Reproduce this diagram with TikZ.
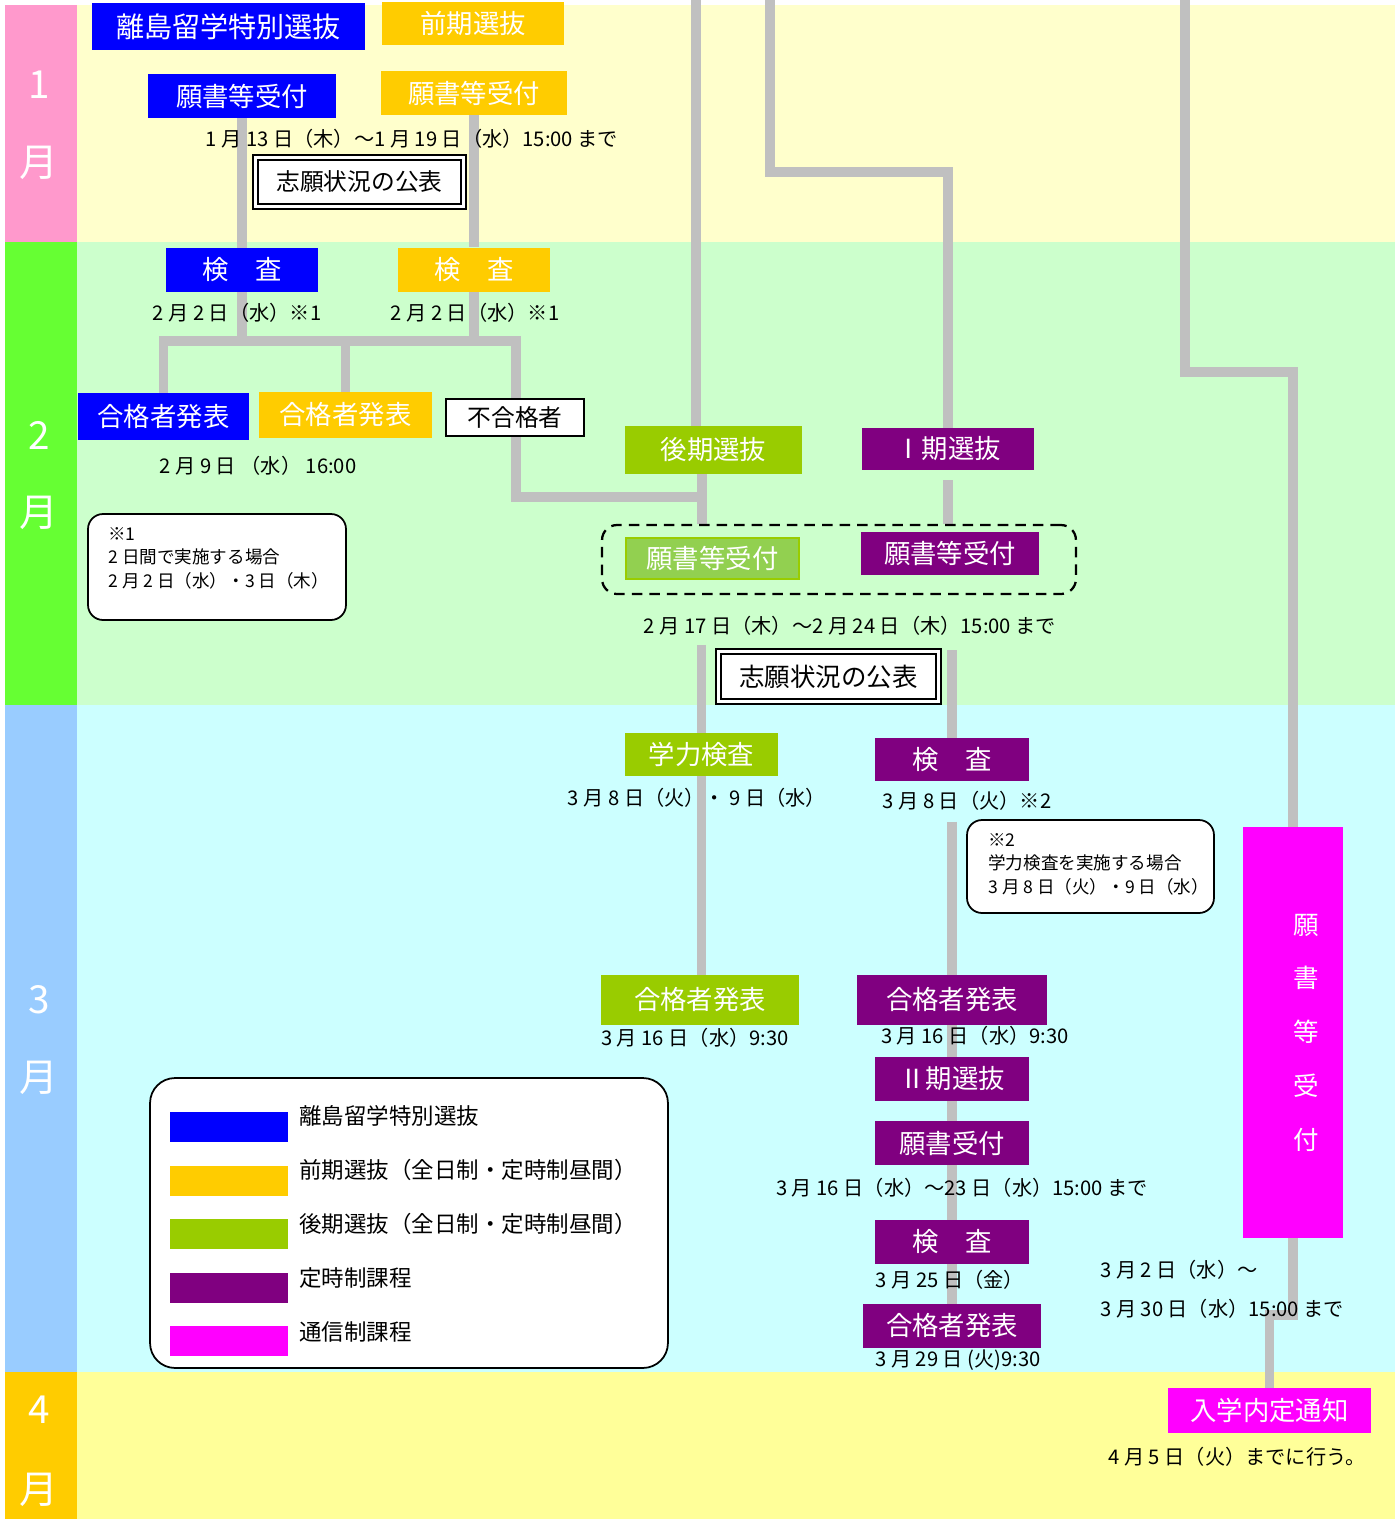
\documentclass[tikz,border=0pt]{standalone}
\usepackage{fontspec}
\setmainfont{Noto Sans CJK JP}
\usetikzlibrary{calc}

\definecolor{islblue}{HTML}{0000FF}
\definecolor{zenki}{HTML}{FFCC00}
\definecolor{koki}{HTML}{99CC00}
\definecolor{kokilight}{HTML}{92D050}
\definecolor{teiji}{HTML}{800080}
\definecolor{tsushin}{HTML}{FF00FF}
\definecolor{linkgray}{HTML}{C0C0C0}
\definecolor{janband}{HTML}{FFFFCC}
\definecolor{febband}{HTML}{CCFFCC}
\definecolor{marband}{HTML}{CCFFFF}
\definecolor{aprband}{HTML}{FFFF99}
\definecolor{janmon}{HTML}{FF99CC}
\definecolor{febmon}{HTML}{66FF33}
\definecolor{marmon}{HTML}{99CCFF}
\definecolor{aprmon}{HTML}{FFCC00}

\pgfdeclarelayer{bands}
\pgfdeclarelayer{links}
\pgfsetlayers{bands,links,main}

\begin{document}
\begin{tikzpicture}[x=0.02cm, y=-0.02cm,
    box/.style={inner sep=0pt, text=white, minimum height=0.88cm, font=\fontsize{15}{18}\selectfont},
    datetext/.style={inner sep=0pt, font=\fontsize{11.5}{13}\selectfont},
    conn/.style={draw=linkgray, line width=5.6pt},
    pub/.style={draw, double, double distance=1.6pt, line width=1.2pt, fill=white, inner sep=0pt},
    memo/.style={draw, line width=1pt, rounded corners=0.3cm, fill=white},
    memotext/.style={inner sep=0pt, align=left, anchor=west, font=\fontsize{10}{13.3}\selectfont},
    month/.style={text=white, font=\fontsize{22}{24}\selectfont}]
    \useasboundingbox (0,0) rectangle (1399,1519);

    % Month bands
    \begin{pgfonlayer}{bands}
    \fill[janband] (77,5) rectangle (1395,242);
    \fill[febband] (77,242) rectangle (1395,705);
    \fill[marband] (77,705) rectangle (1395,1372);
    \fill[aprband] (77,1372) rectangle (1395,1519);
    \fill[janmon] (5,5) rectangle (77,242);
    \fill[febmon] (5,242) rectangle (77,705);
    \fill[marmon] (5,705) rectangle (77,1372);
    \fill[aprmon] (5,1372) rectangle (77,1519);
    \end{pgfonlayer}
    \node[month] (m1a) at (39,85) {1};
    \node[month] (m1b) at (39,163) {月};
    \node[month] (m2a) at (39,435) {2};
    \node[month] (m2b) at (39,513) {月};
    \node[month] (m3a) at (39,1000) {3};
    \node[month] (m3b) at (39,1078) {月};
    \node[month] (m4a) at (39,1410) {4};
    \node[month] (m4b) at (39,1490) {月};

    % Define nodes: January
    \node[box, fill=islblue, minimum width=5.46cm, minimum height=0.94cm, font=\fontsize{16}{18}\selectfont] (isl) at (228.5,26.5) {離島留学特別選抜};
    \node[box, fill=zenki, minimum width=3.64cm, minimum height=0.86cm] (zen) at (473,23.5) {前期選抜};
    \node[box, fill=islblue, minimum width=3.78cm] (bApp) at (242,96) {願書等受付};
    \node[box, fill=zenki, minimum width=3.72cm] (yApp) at (474,93) {願書等受付};
    \node[datetext] (d1) at (412,139) {1 月 13 日（木）～1 月 19 日（水）15:00 まで};
    \node[pub, minimum width=4.16cm, minimum height=0.98cm, font=\fontsize{13.5}{16}\selectfont] (pub1) at (359.5,182) {志願状況の公表};

    % February
    \node[box, fill=islblue, minimum width=3.06cm] (bExam) at (242,270) {検　査};
    \node[box, fill=zenki, minimum width=3.06cm] (yExam) at (474,269.5) {検　査};
    \node[datetext] (d2a) at (237,313) {2 月 2 日（水）※1};
    \node[datetext] (d2b) at (475,313) {2 月 2 日（水）※1};
    \node[box, fill=islblue, minimum width=3.42cm, minimum height=0.94cm] (bPass) at (163.5,416.5) {合格者発表};
    \node[box, fill=zenki, minimum width=3.46cm, minimum height=0.92cm] (yPass) at (345.5,415) {合格者発表};
    \node[draw, line width=1.2pt, fill=white, inner sep=0pt, minimum width=2.76cm, minimum height=0.74cm, font=\fontsize{13.5}{16}\selectfont] (fail) at (515,417.5) {不合格者};
    \node[datetext] (d3) at (258,466) {2 月 9 日 （水） 16:00};
    \node[memo, minimum width=5.16cm, minimum height=2.12cm] (note1) at (217,567) {};
    \node[memotext] (note1txt) at (108,558) {※1\\2 日間で実施する場合\\2 月 2 日（水）・3 日（木）};

    \node[box, fill=koki, minimum width=3.54cm, minimum height=0.96cm] (koki) at (713.5,450) {後期選抜};
    \node[box, fill=teiji, minimum width=3.44cm, minimum height=0.84cm] (ki1) at (948,449) {Ⅰ期選抜};
    \node[draw, dashed, dash pattern=on 6pt off 4pt, line width=1.3pt, rounded corners=0.3cm, minimum width=9.48cm, minimum height=1.38cm] (window) at (839,559.5) {};
    \node[box, fill=kokilight, draw=koki, line width=1pt, minimum width=3.46cm, minimum height=0.82cm] (kApp) at (712.5,558.5) {願書等受付};
    \node[box, fill=teiji, minimum width=3.56cm, minimum height=0.86cm] (pApp) at (950,553.5) {願書等受付};
    \node[datetext] (d4) at (850,626) {2 月 17 日（木）～2 月 24 日（木）15:00 まで};
    \node[pub, minimum width=4.4cm, minimum height=1.0cm, font=\fontsize{14.5}{16}\selectfont] (pub2) at (828.5,676.5) {志願状況の公表};

    % March
    \node[box, fill=koki, minimum width=3.06cm, minimum height=0.86cm] (gakuryoku) at (701.5,754.5) {学力検査};
    \node[datetext] (d5) at (697,798) {3 月 8 日（火）・ 9 日（水）};
    \node[box, fill=teiji, minimum width=3.08cm, minimum height=0.86cm] (pExam1) at (952,759.5) {検　査};
    \node[datetext] (d6) at (967,801) {3 月 8 日（火）※2};
    \node[memo, minimum width=4.94cm, minimum height=1.86cm] (note2) at (1090.5,866.5) {};
    \node[memotext] (note2txt) at (988,864) {※2\\学力検査を実施する場合\\3 月 8 日（火）・9 日（水）};
    \node[box, fill=koki, minimum width=3.96cm, minimum height=1.0cm] (gPass) at (700,1000) {合格者発表};
    \node[datetext] (d7) at (695,1038) {3 月 16 日（水）9:30};
    \node[box, fill=teiji, minimum width=3.82cm, minimum height=1.0cm] (pPass1) at (952,1000) {合格者発表};
    \node[datetext] (d8) at (975,1036) {3 月 16 日（水）9:30};
    \node[box, fill=teiji, minimum width=3.08cm] (ki2) at (952,1079) {Ⅱ期選抜};
    \node[box, fill=teiji, minimum width=3.08cm] (pApp2) at (952,1143) {願書受付};
    \node[datetext] (d9) at (962,1188) {3 月 16 日（水）～23 日（水）15:00 まで};
    \node[box, fill=teiji, minimum width=3.08cm] (pExam2) at (952,1242) {検　査};
    \node[datetext] (d10) at (950,1280) {3 月 25 日（金）};
    \node[box, fill=teiji, minimum width=3.58cm] (pPass2) at (952,1326) {合格者発表};
    \node[datetext] (d11) at (958,1360) {3 月 29 日 (火)9:30};

    \node[box, fill=tsushin, minimum width=2.0cm, minimum height=8.22cm, align=right, text width=1.04cm, font=\fontsize{14.5}{30.6}\selectfont] (mag) at (1293,1032.5) {願\\書\\等\\受\\付};
    \node[datetext, anchor=west] (d12) at (1100,1270) {3 月 2 日（水）～};
    \node[datetext, anchor=west] (d13) at (1100,1309) {3 月 30 日（水）15:00 まで};

    % April
    \node[box, fill=tsushin, minimum width=4.06cm, minimum height=0.9cm] (notice) at (1269.5,1410.5) {入学内定通知};
    \node[datetext] (d14) at (1237,1457) {4 月 5 日（火）までに行う。};

    % Legend
    \node[memo, rounded corners=0.5cm, minimum width=10.36cm, minimum height=5.8cm] (legend) at (409,1223) {};
    \foreach \i/\c/\t in {0/islblue/離島留学特別選抜, 1/zenki/前期選抜（全日制・定時制昼間）, 2/koki/後期選抜（全日制・定時制昼間）, 3/teiji/定時制課程, 4/tsushin/通信制課程}{
        \node[fill=\c, inner sep=0pt, minimum width=2.36cm, minimum height=0.6cm] (sw\i) at (229,1127+53.5*\i) {};
        \node[anchor=west, inner sep=0pt, font=\fontsize{12.8}{15}\selectfont] (lb\i) at (299,1116+54*\i) {\t};
    }

    % Draw connectors
    \coordinate (topK) at (696,0);
    \coordinate (topT) at (770,0);
    \coordinate (topC) at (1185,0);
    \coordinate (fork) at (516,341);
    \coordinate (merge) at (702,497);
    \begin{pgfonlayer}{links}
    \draw[conn] (bApp.south) -- (bExam.north);
    \draw[conn] (yApp.south) -- (yExam.north);
    \draw[conn] (bPass.north) |- (fork) |- (merge);
    \draw[conn] (bExam.south) -- (bExam.south |- fork);
    \draw[conn] (yExam.south) -- (yExam.south |- fork);
    \draw[conn] (yPass.north) -- (yPass.north |- fork);
    \draw[conn] (topK) -- (topK |- koki.north);
    \draw[conn] (topT) -- (770,172) -| (ki1.north);
    \draw[conn] (topC) -- (1185,372) -| (mag.north);
    \draw[conn] (merge |- koki.south) -- (merge |- window.north);
    \draw[conn, shorten <=5.6pt] (ki1.south) -- (ki1.south |- window.north);
    \draw[conn, shorten <=5pt] (d4.south -| gakuryoku.north) -- (gakuryoku.north);
    \draw[conn, shorten <=8pt] (d4.south -| pExam1.north) -- (pExam1.north);
    \draw[conn] (gakuryoku.south) -- (gakuryoku.south |- gPass.north);
    \draw[conn, shorten <=6pt] (d6.south -| pExam1.south) -- (pPass1.north);
    \draw[conn] (pPass1.south) -- (ki2.north);
    \draw[conn] (ki2.south) -- (pApp2.north);
    \draw[conn] (pApp2.south) -- (pExam2.north);
    \draw[conn] (pExam2.south) -- (pPass2.north);
    \draw[conn] (mag.south) -- (1293,1315) -| (notice.north);
    \end{pgfonlayer}
\end{tikzpicture}
\end{document}
